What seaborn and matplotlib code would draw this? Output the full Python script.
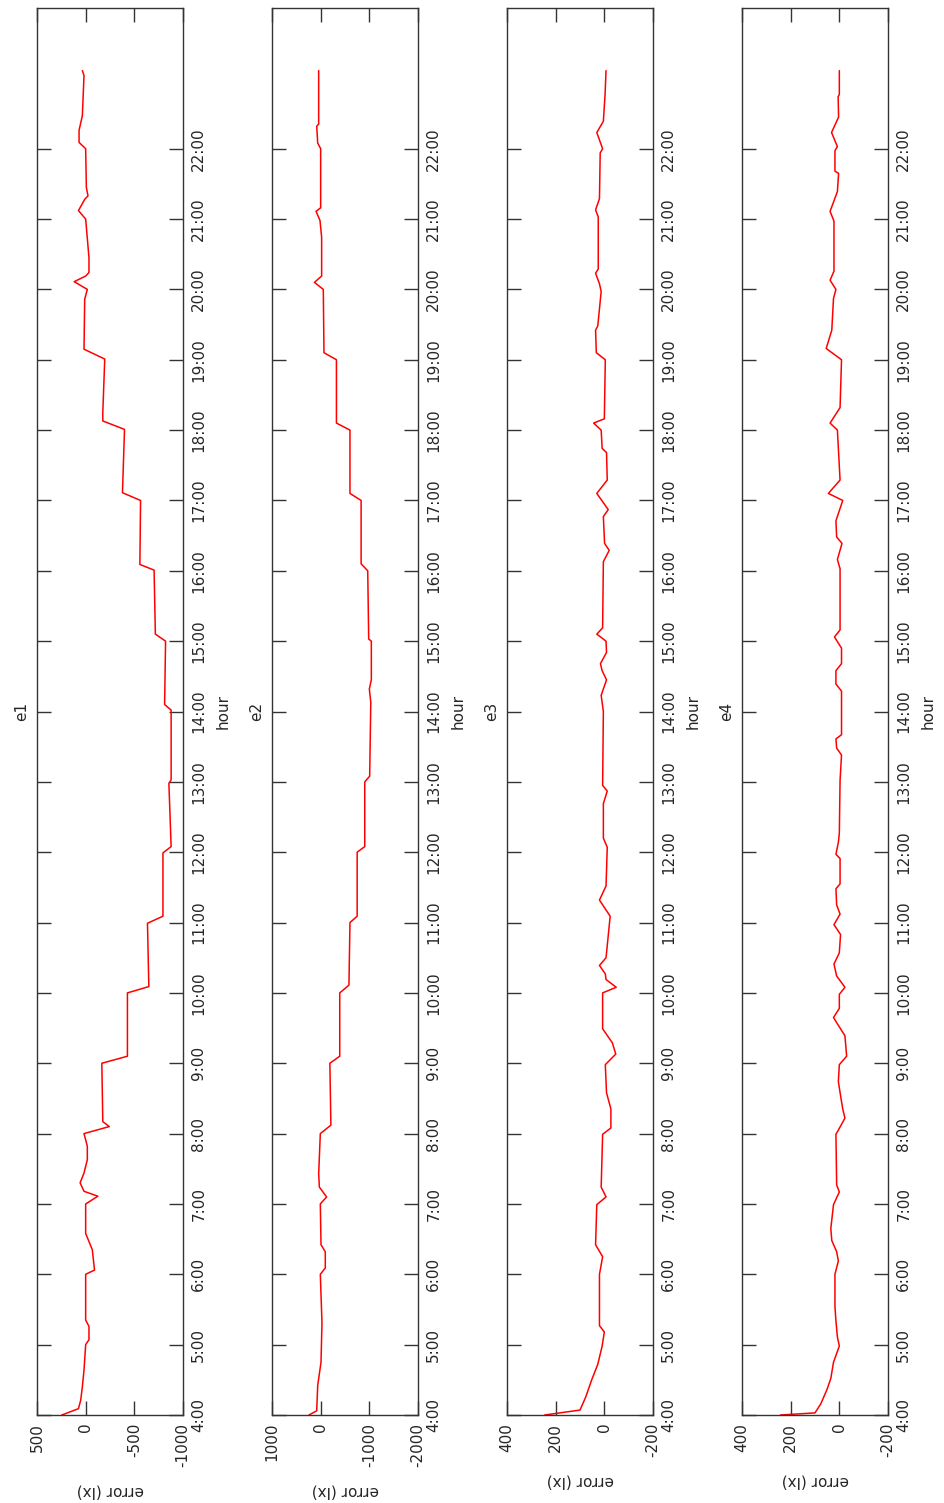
import matplotlib
matplotlib.use("Agg")
import matplotlib.pyplot as plt
import seaborn as sns
import pandas as pd
from matplotlib.ticker import FixedLocator, FixedFormatter

sns.set_style("white")
plt.rcParams["font.family"] = ["DejaVu Sans"]
plt.rcParams["axes.unicode_minus"] = False

# ---- data (hour of day, error in lx) ----
e1_hour = [4.00, 4.09, 4.21, 4.40, 4.64, 5.00, 5.07, 5.26, 5.35, 6.00, 6.06, 6.35, 6.58, 7.00, 7.11, 7.18,
           7.30, 7.44, 7.63, 7.82, 8.00, 8.10, 8.17, 9.00, 9.10, 10.00, 10.09, 10.99, 11.09, 11.99, 12.08,
           12.98, 13.03, 14.02, 14.10, 15.00, 15.10, 16.01, 16.09, 17.00, 17.11, 18.01, 18.13, 18.25, 19.01,
           19.15, 19.86, 20.00, 20.11, 20.19, 20.24, 20.45, 21.00, 21.12, 21.28, 21.33, 21.45, 22.00, 22.09,
           22.26, 22.47, 23.04, 23.11]
e1_err = [245, 74, 51, 34, 17, 0, -34, -34, 0, 0, -91, -68, 0, 0, -125, 17,
          57, 17, -17, -17, 17, -243, -176, -166, -429, -429, -649, -635, -794, -794, -878,
          -855, -878, -878, -811, -821, -716, -703, -557, -564, -378, -399, -176, -176, -196,
          17, 10, -17, 118, 0, -34, -34, 0, 74, 10, -24, -7, 0, 68,
          68, 34, 17, 34]

e2_hour = [4.00, 4.06, 4.42, 4.75, 5.31, 6.00, 6.09, 6.32, 6.42, 7.00, 7.10, 7.24, 7.43, 8.00, 8.12, 9.00,
           9.10, 10.00, 10.11, 11.00, 11.09, 12.00, 12.08, 13.00, 13.08, 14.13, 14.32, 14.45, 15.00, 15.03,
           16.00, 16.10, 17.00, 17.10, 18.00, 18.10, 19.00, 19.10, 20.00, 20.10, 20.19, 20.74, 20.98, 21.11,
           21.16, 22.00, 22.08, 22.32, 22.35, 23.11]
e2_err = [240, 81, 61, -7, -27, 7, -95, -95, -7, 7, -122, 27, 41, 7, -210, -189,
          -392, -392, -581, -602, -750, -750, -906, -906, -1007, -1030, -1000, -1041, -1041, -987,
          -967, -831, -831, -602, -602, -324, -324, -68, -54, 128, -20, -20, 14, 95,
          0, 0, 61, 81, 41, 41]

e3_hour = [4.00, 4.07, 4.26, 4.49, 4.72, 4.98, 5.18, 5.27, 6.00, 6.25, 6.42, 6.99, 7.10, 7.24, 7.99, 8.08,
           8.35, 8.58, 8.98, 9.13, 9.29, 9.49, 10.00, 10.08, 10.19, 10.27, 10.39, 10.50, 11.09, 11.32, 11.52,
           12.07, 12.20, 12.69, 12.87, 12.95, 14.00, 14.23, 14.45, 14.58, 14.68, 14.84, 15.00, 15.10, 15.19,
           16.13, 16.29, 16.39, 16.77, 16.87, 17.10, 17.29, 17.68, 17.74, 18.00, 18.10, 18.16, 19.00, 19.10,
           19.42, 19.48, 19.97, 20.08, 20.23, 20.29, 21.03, 21.13, 21.29, 21.94, 22.00, 22.23, 22.39, 22.77,
           23.11]
e3_err = [245, 100, 76, 53, 27, 9, 0, 20, 20, 7, 36, 31, -7, 13, 7, -27,
          -27, -9, -4, -47, -33, 7, 7, -49, -7, -4, 20, -7, -24, 20, -7,
          -12, 4, 4, -12, 7, 4, 13, -9, 9, 16, -9, -7, 31, 7,
          4, -20, -1, 4, -16, 31, -12, -9, 9, 13, 44, 0, -4, 33,
          36, 27, 13, 20, 36, 25, 25, 36, 20, 17, 7, 31, 4, -3,
          -7]

e4_hour = [4.00, 4.03, 4.16, 4.36, 4.52, 4.75, 4.98, 5.11, 5.34, 5.54, 6.00, 6.19, 6.32, 6.48, 6.65, 6.99,
           7.17, 7.27, 7.99, 8.05, 8.22, 8.35, 8.54, 8.74, 8.98, 9.10, 9.39, 9.65, 9.78, 9.98, 10.08, 10.24,
           10.41, 10.57, 10.83, 10.97, 11.12, 11.25, 11.48, 11.55, 11.91, 11.97, 12.14, 12.27, 13.02, 13.38,
           13.48, 13.61, 13.67, 14.29, 14.39, 14.58, 14.68, 14.90, 15.06, 15.16, 16.03, 16.16, 16.39, 16.48,
           16.71, 17.00, 17.10, 17.29, 18.00, 18.10, 18.32, 19.00, 19.16, 19.42, 19.87, 20.00, 20.13, 20.26,
           20.97, 21.11, 21.39, 21.65, 21.68, 21.97, 22.03, 22.23, 22.39, 22.45, 22.74, 22.77, 23.11]
e4_err = [242, 100, 76, 51, 35, 24, 0, 8, 14, 18, 18, 4, 11, 31, 35, 24,
          0, 11, 14, 4, -23, -14, -5, 4, 0, -30, -23, 24, 0, 0, -23, 11,
          22, 0, -5, 22, -3, 11, 14, -3, -3, 14, 4, 0, -3, -9,
          11, 14, -9, -9, 14, 14, -9, -9, 20, -3, -3, 8, -11, 11,
          14, -14, 45, -3, 8, 38, -3, -9, 54, 31, 24, 14, 38, 22,
          22, 38, 8, 3, 18, 18, 8, 32, 11, 3, 5, 0, 0]

titles = ["e1", "e2", "e3", "e4"]
err_ticks = [[500, 0, -500, -1000], [1000, 0, -1000, -2000], [400, 200, 0, -200], [400, 200, 0, -200]]
err_limits = [(500, -1000), (1000, -2000), (400, -200), (400, -200)]
hour_ticks = list(range(4, 23))
hour_labels = [f"{h}:00" for h in hour_ticks]
xlabel = "error (lx)"
ylabel = "hour"

series = [(e1_hour, e1_err), (e2_hour, e2_err), (e3_hour, e3_err), (e4_hour, e4_err)]

W, H = 945, 1503
fig = plt.figure(figsize=(W / 100, H / 100), dpi=100)
lefts = [37, 272, 507, 742]
spine_col = "#333333"
fs = 11

for i, (hrs, err) in enumerate(series):
    ax = fig.add_axes([lefts[i] / W, (H - 1415) / H, 146 / W, 1407 / H])
    df = pd.DataFrame({"hour": hrs, "error": err})
    sns.lineplot(data=df, x="error", y="hour", orient="y", sort=False, estimator=None,
                 color="#ff0000", linewidth=1.1, ax=ax)
    ax.set_xlim(*err_limits[i])
    ax.set_ylim(4, 24)
    ax.xaxis.set_major_locator(FixedLocator(err_ticks[i]))
    ax.xaxis.set_major_formatter(FixedFormatter([str(t) for t in err_ticks[i]]))
    ax.yaxis.set_major_locator(FixedLocator(hour_ticks))
    ax.yaxis.set_major_formatter(FixedFormatter(hour_labels))
    for s in ax.spines.values():
        s.set_visible(True)
        s.set_color(spine_col)
        s.set_linewidth(1.0)
    ax.tick_params(axis="x", which="major", direction="in", length=10, width=1.0, color=spine_col,
                   top=True, bottom=True, labelbottom=True, labeltop=False, labelsize=fs, pad=5.5,
                   labelrotation=90)
    ax.tick_params(axis="y", which="major", direction="in", length=10, width=1.0, color=spine_col,
                   left=True, right=True, labelleft=False, labelright=True, labelsize=fs, pad=6,
                   labelrotation=90)
    for lab in ax.get_yticklabels():
        lab.set_verticalalignment("center")
    ax.set_xlabel(xlabel, rotation=180, fontsize=fs, labelpad=12)
    ax.yaxis.set_label_position("right")
    ax.set_ylabel(ylabel, rotation=90, fontsize=fs, labelpad=7)
    ax.annotate(titles[i], xy=(0, 0.5), xycoords="axes fraction", xytext=(-6, 0),
                textcoords="offset points", rotation=90, ha="right", va="center", fontsize=fs)
    ax.grid(False)

fig.savefig("out.png", dpi=100)
